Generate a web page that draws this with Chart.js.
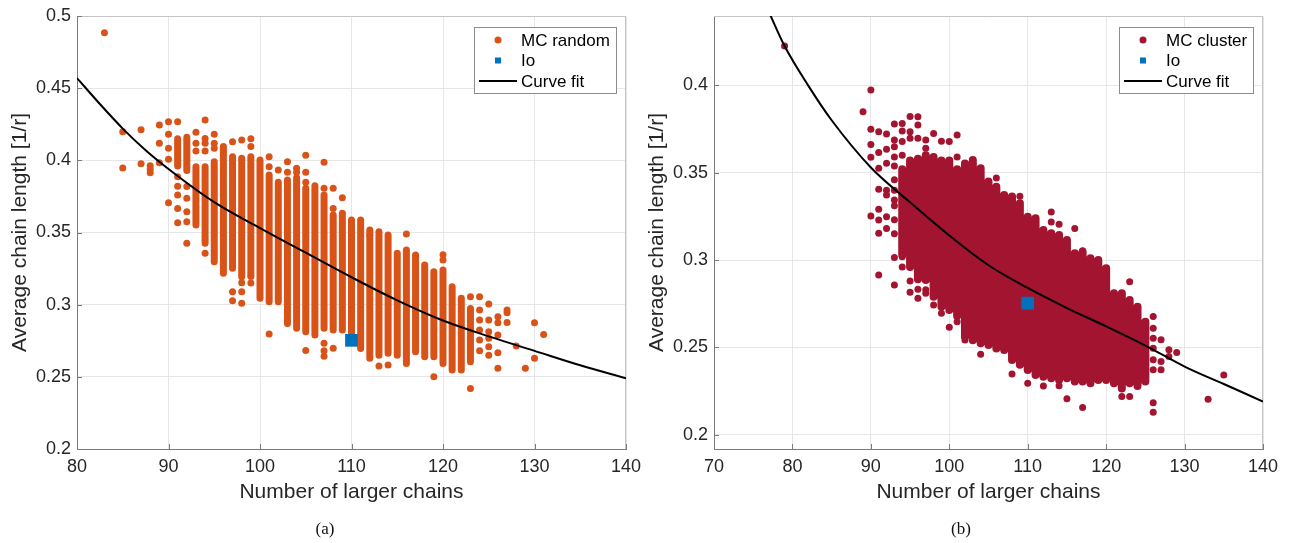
<!DOCTYPE html>
<html>
<head>
<meta charset="utf-8">
<script src="https://cdn.jsdelivr.net/npm/chart.js@4.4.1/dist/chart.umd.min.js"></script>
<style>
  html, body { margin: 0; padding: 0; background: #fff; }
  #wrap { position: relative; width: 1290px; height: 543px; overflow: hidden; }
  canvas { position: absolute; top: 0; }
  #chartA { left: 0; }
  #chartB { left: 645px; }
  .sub { position: absolute; top: 519px; font-family: "Liberation Serif", "DejaVu Serif", serif;
         font-size: 17px; color: #111; transform: translateX(-50%); }
</style>
</head>
<body>
<div id="wrap">
  <canvas id="chartA" width="645" height="543"></canvas>
  <canvas id="chartB" width="645" height="543"></canvas>
  <div class="sub" style="left:325px">(a)</div>
  <div class="sub" style="left:961px">(b)</div>
</div>
<script>
// ---- shared ----
const xTitle = 'Number of larger chains';
const yTitle = 'Average chain length [1/r]';
const ioX = [110];
const ioY = [0.2753];

// ---- panel (a): MC random ----
const xTicksA = [80, 90, 100, 110, 120, 130, 140];
const yTicksA = [0.2, 0.25, 0.3, 0.35, 0.4, 0.45, 0.5];
// dense columns of points: x, highest and lowest value in the column
const colXA   = [91, 92, 93, 94, 95, 96, 97, 98, 99, 100, 101, 102, 103, 104, 105, 106, 107,
                 108, 109, 110, 111, 112, 113, 114, 115, 116, 117, 118, 119, 120, 121, 122, 123];
const colTopA = [0.415, 0.416, 0.3956, 0.3956, 0.3991, 0.4095, 0.4025, 0.4014, 0.4025, 0.4002, 0.3898,
                 0.3848, 0.3864, 0.388, 0.3806, 0.3824, 0.376, 0.3621, 0.3633, 0.3587, 0.3587, 0.3517,
                 0.3506, 0.3483, 0.3356, 0.3379, 0.3344, 0.3275, 0.3228, 0.324, 0.3125, 0.3044, 0.2974];
const colBotA = [0.396, 0.393, 0.3552, 0.3425, 0.3298, 0.3217, 0.3252, 0.3194, 0.3205, 0.3044, 0.3021,
                 0.3021, 0.287, 0.2836, 0.2813, 0.279, 0.2836, 0.2824, 0.2824, 0.2801, 0.2697, 0.2628,
                 0.265, 0.2663, 0.265, 0.2593, 0.2674, 0.264, 0.264, 0.2593, 0.2547, 0.2547, 0.2605];
// single points outside the columns
const dotsA = [
  [83, 0.4884], [85, 0.4198], [85, 0.3947], [87, 0.4212], [87, 0.3977], [88, 0.3963], [88, 0.3938],
  [88, 0.3914], [89, 0.4245], [89, 0.4118], [89, 0.3983], [90, 0.4268], [90, 0.418], [90, 0.4083],
  [90, 0.4007], [90, 0.3706], [91, 0.4268], [91, 0.3887], [91, 0.382], [91, 0.376], [91, 0.3667],
  [91, 0.3568], [92, 0.3818], [92, 0.3737], [92, 0.3644], [92, 0.3575], [92, 0.3425], [93, 0.4194],
  [93, 0.4118], [93, 0.4064], [94, 0.428], [94, 0.4152], [94, 0.4118], [94, 0.4064], [94, 0.3356],
  [95, 0.418], [95, 0.4118], [95, 0.4083], [97, 0.4129], [97, 0.309], [97, 0.3027], [98, 0.4141],
  [98, 0.3152], [98, 0.309], [98, 0.301], [99, 0.415], [99, 0.4095], [99, 0.3196], [99, 0.315],
  [101, 0.4025], [101, 0.3956], [101, 0.2796], [102, 0.3933], [103, 0.3991], [103, 0.3917],
  [104, 0.3945], [104, 0.3917], [105, 0.4035], [105, 0.3917], [105, 0.3848], [105, 0.2683],
  [107, 0.3986], [107, 0.3806], [107, 0.2732], [107, 0.2681], [107, 0.2642], [108, 0.3806],
  [108, 0.3667], [108, 0.2698], [109, 0.3741], [112, 0.3483], [113, 0.2575], [114, 0.2582],
  [116, 0.349], [119, 0.25], [120, 0.3345], [120, 0.331], [123, 0.3055], [123, 0.242],
  [124, 0.3055], [124, 0.2963], [124, 0.2893], [124, 0.2824], [124, 0.2755], [124, 0.2681],
  [125, 0.3004], [125, 0.2893], [125, 0.2813], [125, 0.2767], [125, 0.2709], [125, 0.265],
  [126, 0.2917], [126, 0.2875], [126, 0.279], [126, 0.2667], [126, 0.2559], [127, 0.2963],
  [127, 0.2944], [127, 0.2877], [128, 0.2713], [129, 0.2559], [130, 0.2875], [130, 0.2628],
  [131, 0.2794]
];
const fitXA = [80, 82.5, 85, 87.5, 90, 95, 100, 105, 110, 115, 120, 125, 130, 135, 140];
const fitYA = [0.457, 0.439, 0.422, 0.407, 0.394, 0.371, 0.353, 0.336, 0.319, 0.303, 0.289, 0.278, 0.268, 0.258, 0.249];

// ---- panel (b): MC cluster ----
const xTicksB = [70, 80, 90, 100, 110, 120, 130, 140];
const yTicksB = [0.2, 0.25, 0.3, 0.35, 0.4];
const colXB   = [94, 95, 96, 97, 98, 99, 100, 101, 102, 103, 104, 105, 106, 107, 108, 109,
                 110, 111, 112, 113, 114, 115, 116, 117, 118, 119, 120, 121, 122, 123, 124, 125];
const colTopB = [0.352, 0.357, 0.358, 0.36, 0.359, 0.357, 0.357, 0.352, 0.3553, 0.3573, 0.3525, 0.3449,
                 0.342, 0.3372, 0.3363, 0.3325, 0.3248, 0.3239, 0.3172, 0.3153, 0.3143, 0.3115, 0.3038,
                 0.3048, 0.301, 0.3, 0.2953, 0.281, 0.2809, 0.2771, 0.2733, 0.2647];
const colBotB = [0.303, 0.296, 0.289, 0.2886, 0.279, 0.2733, 0.2714, 0.268, 0.2561, 0.254, 0.2523, 0.2513,
                 0.2494, 0.2485, 0.2428, 0.24, 0.237, 0.2342, 0.2332, 0.2323, 0.2313, 0.2323, 0.2304,
                 0.2304, 0.2294, 0.2313, 0.2313, 0.2294, 0.2265, 0.2294, 0.2279, 0.2305];
const dotsB = [
  [79, 0.4225], [89, 0.3849], [90, 0.3973], [90, 0.3748], [90, 0.3662], [90, 0.3588], [90, 0.3252],
  [91, 0.3735], [91, 0.3615], [91, 0.3525], [91, 0.3405], [91, 0.329], [91, 0.3229], [91, 0.3153],
  [91, 0.2914], [92, 0.3721], [92, 0.3634], [92, 0.3554], [92, 0.34], [92, 0.3372], [92, 0.3248],
  [92, 0.318], [93, 0.3779], [93, 0.3687], [93, 0.3649], [93, 0.359], [93, 0.3538], [93, 0.346],
  [93, 0.34], [93, 0.3344], [93, 0.3311], [93, 0.323], [93, 0.315], [93, 0.3015], [93, 0.2857],
  [94, 0.3782], [94, 0.3739], [94, 0.3678], [94, 0.36], [94, 0.3019], [94, 0.296], [95, 0.3821],
  [95, 0.3735], [95, 0.3697], [95, 0.288], [95, 0.2815], [96, 0.382], [96, 0.3773], [96, 0.3697],
  [96, 0.2832], [96, 0.2781], [97, 0.3687], [97, 0.364], [97, 0.283], [97, 0.281], [98, 0.3725],
  [98, 0.2743], [99, 0.368], [99, 0.2695], [100, 0.3678], [100, 0.2615], [101, 0.3716],
  [101, 0.359], [101, 0.2647], [102, 0.2542], [104, 0.246], [106, 0.347], [108, 0.2347],
  [109, 0.3365], [110, 0.2294], [112, 0.2279], [113, 0.3275], [113, 0.3218], [114, 0.3205],
  [114, 0.228], [115, 0.2206], [116, 0.3181], [117, 0.3053], [117, 0.2155], [122, 0.2219],
  [123, 0.2876], [123, 0.2218], [126, 0.2676], [126, 0.261], [126, 0.2552], [126, 0.2495],
  [126, 0.2429], [126, 0.2372], [126, 0.2183], [126, 0.2128], [127, 0.2543], [127, 0.2419],
  [127, 0.2372], [128, 0.2486], [128, 0.2448], [129, 0.2471], [133, 0.2203], [135, 0.2342]
];
const fitXB = [77, 79, 82, 85, 90, 95, 100, 105, 110, 115, 120, 125, 130, 135, 140];
const fitYB = [0.442, 0.4225, 0.4, 0.38, 0.353, 0.333, 0.314, 0.297, 0.284, 0.2725, 0.262, 0.251, 0.239, 0.229, 0.219];

const FONT = '"Liberation Sans", Arial, Helvetica, sans-serif';
const IO_COLOR = '#0072BD';
Chart.defaults.font.family = FONT;
Chart.defaults.color = '#262626';

function pointData(xs, ys) { return xs.map((x, i) => ({x, y: ys[i]})); }

// each column becomes one stroke from its top to its bottom, null breaks the line
function columnData(xs, tops, bots) {
  const out = [];
  xs.forEach((x, i) => out.push({x, y: tops[i]}, {x, y: bots[i]}, {x, y: null}));
  return out;
}

// light box edges on top/right and short inward ticks, MATLAB style
const frame = {
  id: 'frame',
  beforeDatasetsDraw(chart) {
    const {ctx, chartArea: a, scales: {x, y}} = chart;
    ctx.save();
    ctx.lineWidth = 1;
    ctx.strokeStyle = '#c4c4c4';
    ctx.beginPath();
    ctx.moveTo(a.left, a.top + 0.5);
    ctx.lineTo(a.right - 0.5, a.top + 0.5);
    ctx.lineTo(a.right - 0.5, a.bottom);
    ctx.stroke();
    ctx.strokeStyle = '#7a7a7a';
    ctx.beginPath();
    x.ticks.forEach(t => {
      const px = Math.round(x.getPixelForValue(t.value)) + 0.5;
      ctx.moveTo(px, a.bottom); ctx.lineTo(px, a.bottom - 5);
    });
    y.ticks.forEach(t => {
      const py = Math.round(y.getPixelForValue(t.value)) + 0.5;
      ctx.moveTo(a.left, py); ctx.lineTo(a.left + 5, py);
    });
    ctx.stroke();
    ctx.restore();
  }
};

// boxed legend in the top right corner of the plot area
const boxLegend = {
  id: 'boxLegend',
  afterDatasetsDraw(chart, args, opts) {
    const {ctx, chartArea} = chart;
    ctx.save();
    ctx.font = '17px ' + FONT;
    const textW = Math.max(...opts.items.map(it => ctx.measureText(it.label).width));
    const w = Math.round(47 + textW + 6);
    const h = 66;
    const right = Math.round(chartArea.right - 10);
    const left = right - w;
    const top = Math.round(chartArea.top + 11);
    ctx.fillStyle = '#fff';
    ctx.fillRect(left, top, w, h);
    ctx.strokeStyle = '#8c8c8c';
    ctx.lineWidth = 1;
    ctx.strokeRect(left + 0.5, top + 0.5, w, h);
    opts.items.forEach((it, i) => {
      const yy = top + 13 + i * 20.5;
      const mx = left + 24;
      if (it.kind === 'dot') {
        ctx.fillStyle = it.color;
        ctx.beginPath(); ctx.arc(mx, yy, 3.5, 0, Math.PI * 2); ctx.fill();
      } else if (it.kind === 'square') {
        ctx.fillStyle = it.color;
        ctx.fillRect(mx - 3, yy - 3, 6, 6);
      } else {
        ctx.strokeStyle = it.color; ctx.lineWidth = 2;
        ctx.beginPath(); ctx.moveTo(left + 5, yy); ctx.lineTo(left + 43, yy); ctx.stroke();
      }
      ctx.fillStyle = '#000';
      ctx.textBaseline = 'middle';
      ctx.textAlign = 'left';
      ctx.fillText(it.label, left + 47, yy + 1);
    });
    ctx.restore();
  }
};

function buildChart(id, p) {
  return new Chart(document.getElementById(id), {
    type: 'scatter',
    data: {
      datasets: [
        { type: 'line', label: 'Curve fit', data: pointData(p.fitX, p.fitY), borderColor: '#000',
          borderWidth: 2, pointRadius: 0, cubicInterpolationMode: 'monotone', order: 0 },
        { label: 'Io', data: pointData(ioX, ioY), pointStyle: 'rect', pointRadius: 9,
          pointBackgroundColor: IO_COLOR, backgroundColor: IO_COLOR, pointBorderWidth: 0, borderWidth: 0, order: 1 },
        { label: p.label, data: p.dots.map(d => ({x: d[0], y: d[1]})), pointRadius: 3.5,
          pointBackgroundColor: p.color, backgroundColor: p.color, pointBorderWidth: 0, borderWidth: 0, order: 2 },
        { type: 'line', label: '', data: columnData(p.colX, p.colTop, p.colBot), borderColor: p.color,
          borderWidth: p.colWidth, borderCapStyle: 'round', borderJoinStyle: 'round',
          pointRadius: 0, spanGaps: false, order: 3 }
      ]
    },
    options: {
      responsive: false,
      animation: false,
      events: [],
      layout: { padding: { left: 0, top: 16, right: p.padRight, bottom: 34 } },
      plugins: {
        legend: { display: false },
        tooltip: { enabled: false },
        boxLegend: { items: [
          { kind: 'dot', color: p.color, label: p.label },
          { kind: 'square', color: IO_COLOR, label: 'Io' },
          { kind: 'line', color: '#000', label: 'Curve fit' }
        ] }
      },
      scales: {
        x: {
          type: 'linear', min: p.xTicks[0], max: p.xTicks[p.xTicks.length - 1], offset: false,
          afterBuildTicks: s => { s.ticks = p.xTicks.map(v => ({value: v})); },
          afterFit: s => { s.height = 60; s.paddingLeft = 0; s.paddingRight = 0; },
          grid: { color: '#e6e6e6', drawTicks: false, offset: false },
          border: { display: true, color: '#7a7a7a', width: 1 },
          ticks: { padding: 7, font: { size: 18 }, color: '#262626', maxRotation: 0 },
          title: { display: true, text: xTitle, font: { size: 21 }, color: '#262626', padding: { top: 0, bottom: 4 } }
        },
        y: {
          type: 'linear', min: p.yMin, max: p.yMax,
          afterBuildTicks: s => { s.ticks = p.yTicks.map(v => ({value: v})); },
          afterFit: s => { s.width = p.yWidth; s.paddingTop = 0; s.paddingBottom = 0; },
          grid: { color: '#e6e6e6', drawTicks: false },
          border: { display: true, color: '#7a7a7a', width: 1 },
          ticks: { padding: 6, font: { size: 18 }, color: '#262626', callback: v => String(+v.toFixed(2)) },
          title: { display: true, text: yTitle, font: { size: 21 }, color: '#262626', padding: { top: p.yTitlePad, bottom: 0 } }
        }
      }
    },
    plugins: [frame, boxLegend]
  });
}

buildChart('chartA', {
  label: 'MC random', color: '#D95319', colWidth: 7,
  colX: colXA, colTop: colTopA, colBot: colBotA, dots: dotsA, fitX: fitXA, fitY: fitYA,
  xTicks: xTicksA, yTicks: yTicksA, yMin: 0.2, yMax: 0.5,
  yWidth: 77, yTitlePad: 8, padRight: 19
});

buildChart('chartB', {
  label: 'MC cluster', color: '#A2142F', colWidth: 8,
  colX: colXB, colTop: colTopB, colBot: colBotB, dots: dotsB, fitX: fitXB, fitY: fitYB,
  xTicks: xTicksB, yTicks: yTicksB, yMin: 0.1918, yMax: 0.4397,
  yWidth: 69, yTitlePad: 0, padRight: 27
});
</script>
</body>
</html>
